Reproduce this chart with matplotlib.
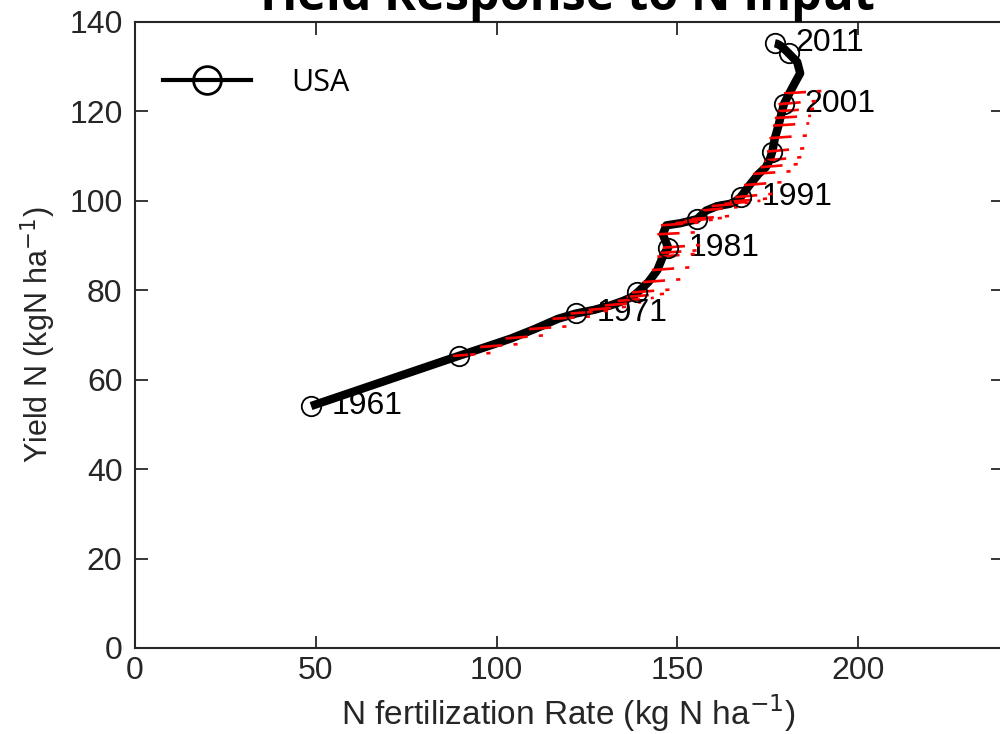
import matplotlib
matplotlib.use("Agg")
import matplotlib.pyplot as plt
from matplotlib.lines import Line2D

plt.rcParams['font.family'] = ['Liberation Sans', 'DejaVu Sans']
plt.rcParams['lines.scale_dashes'] = False

# black path: N fertilization rate vs yield N (USA)
years = [1961, 1966, 1967, 1968, 1969, 1970, 1971, 1972, 1973, 1974, 1975,
         1976, 1977, 1978, 1979, 1980, 1981, 1982, 1983, 1984, 1985,
         1986, 1987, 1988, 1989, 1990, 1991, 1992, 1993, 1994, 1995,
         1996, 1997, 1998, 1999, 2000, 2001, 2002, 2003, 2004, 2005,
         2006, 2007, 2008, 2009, 2010, 2011]
n_rate = [48.7, 89.5, 97.0, 104.0, 110.5, 117.0, 122.0, 127.0, 131.5, 135.0, 137.5,
          139.0, 142.0, 144.5, 146.0, 146.5, 147.5, 146.0, 147.0, 151.0, 153.5,
          155.5, 158.0, 161.0, 164.5, 166.0, 167.5, 170.0, 172.5, 174.5, 175.5,
          176.3, 177.0, 178.0, 178.5, 179.0, 179.5, 181.0, 182.5, 184.0, 183.2,
          180.8, 179.8, 179.0, 178.3, 177.6, 177.0]
yield_n = [54.1, 65.3, 67.3, 69.2, 71.3, 73.6, 74.8, 75.6, 76.6, 77.6, 78.5,
           79.5, 81.8, 84.5, 87.5, 88.3, 89.5, 92.5, 94.5, 95.0, 95.5,
           95.9, 97.8, 98.8, 99.3, 99.8, 100.8, 103.5, 106.0, 107.5, 109.0,
           111.0, 114.0, 116.8, 118.5, 120.0, 121.6, 124.0, 126.3, 128.5, 131.0,
           133.0, 133.8, 134.4, 134.8, 135.1, 135.2]

# red segments (1966-2002): end points
red_years = list(range(1966, 2003))
red_x = [99.0, 107.0, 114.5, 121.0, 127.5, 131.5, 136.0, 140.0, 143.5, 146.5,
         149.0, 152.0, 155.0, 156.5, 157.0, 158.0, 156.5, 157.5, 160.5, 163.0,
         164.5, 167.0, 170.0, 173.0, 175.0, 177.0, 179.5, 181.5, 183.5, 185.0,
         186.0, 186.0, 186.5, 187.0, 188.5, 190.0, 191.0]
red_y = [66.0, 68.0, 70.0, 72.0, 74.2, 75.4, 76.3, 77.3, 78.3, 79.2,
         80.2, 82.5, 85.2, 88.2, 89.0, 90.2, 93.0, 95.2, 95.8, 96.2,
         96.6, 98.6, 99.6, 100.0, 100.5, 101.6, 104.2, 106.6, 108.2, 109.8,
         111.8, 114.6, 117.3, 119.0, 120.6, 122.4, 124.6]

label_years = [1961, 1971, 1981, 1991, 2001, 2011]
marker_years = [1961, 1966, 1971, 1976, 1981, 1986, 1991, 1996, 2001, 2006, 2011]

fig = plt.figure(figsize=(10, 7.34), dpi=100)
ax = fig.add_axes([0.135, 0.1172, 0.8676, 0.853])

ax.plot(n_rate, yield_n, color='black', linewidth=6, solid_capstyle='butt',
        solid_joinstyle='round', zorder=3)

for yr, xr, yr_ in zip(red_years, red_x, red_y):
    i = years.index(yr)
    ax.plot([n_rate[i] - 1.5, xr], [yield_n[i], yr_], color='red', linewidth=1.9,
            linestyle=(0, (16, 8, 3, 20)), zorder=4)

mx = [n_rate[years.index(y)] for y in marker_years]
my = [yield_n[years.index(y)] for y in marker_years]
ax.plot(mx, my, linestyle='none', marker='o', markersize=14,
        markerfacecolor='none', markeredgecolor='black', markeredgewidth=1.3, zorder=5)

for y in label_years:
    i = years.index(y)
    ax.annotate(str(y), (n_rate[i], yield_n[i]), xytext=(15, 0),
                textcoords='offset points', ha='left', va='center', fontsize=23)

ax.set_xlim(0, 240)
ax.set_ylim(0, 140)
ax.set_xticks([0, 50, 100, 150, 200])
ax.set_yticks([0, 20, 40, 60, 80, 100, 120, 140])
ax.tick_params(direction='in', length=9, width=1.3, colors='#262626',
               top=True, right=True, labelsize=23)
ax.tick_params(axis='y', pad=9)
ax.tick_params(axis='x', pad=6)
for s in ax.spines.values():
    s.set_linewidth(1.5)
    s.set_color('#262626')

ax.set_xlabel('N fertilization Rate (kg N ha$^{-1}$)', fontsize=24, color='#262626', labelpad=4)
ax.set_ylabel('Yield N (kgN ha$^{-1}$)', fontsize=22, color='#262626', labelpad=8)

fig.text(0.563, 1 - 10 / 734, 'Yield Response to N Input', ha='center', va='baseline',
         fontsize=35, fontweight='bold', family=['Open Sans', 'DejaVu Sans'])

handle = Line2D([], [], color='black', linewidth=3, marker='o', markersize=20,
                markerfacecolor='none', markeredgecolor='black', markeredgewidth=2)
leg = ax.legend([handle], ['USA'], loc='upper left', bbox_to_anchor=(0.0, 0.97),
                frameon=False, handlelength=2.9, handletextpad=1.3,
                prop={'family': ['Open Sans', 'DejaVu Sans'], 'size': 22})

fig.savefig('out.png', dpi=100)
